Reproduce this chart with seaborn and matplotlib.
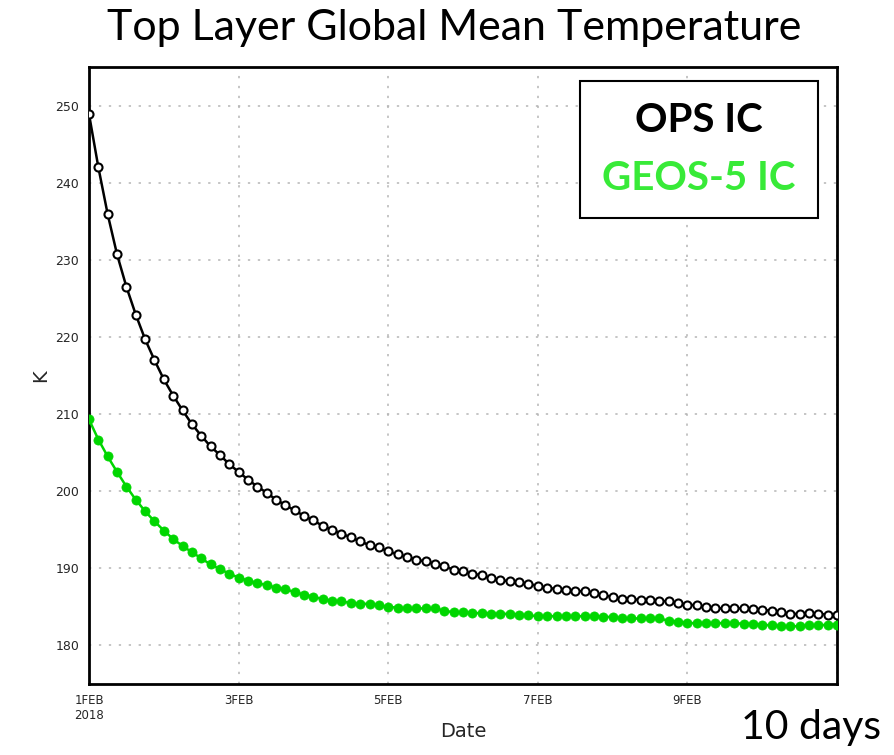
import matplotlib
matplotlib.use("Agg")
import matplotlib.pyplot as plt
import seaborn as sns
import pandas as pd
import numpy as np
from matplotlib.patches import Rectangle

# ---- data (3-hourly, 1 Feb 2018 00Z to 11 Feb 2018 00Z) ----
start_date = "2018-02-01"
n_steps = 81
ops_ic = [248.9, 242.0, 235.9, 230.7, 226.5, 222.9, 219.7, 217.0, 214.5, 212.4,
          210.5, 208.7, 207.2, 205.8, 204.7, 203.5, 202.5, 201.5, 200.6, 199.8,
          198.9, 198.2, 197.5, 196.8, 196.2, 195.5, 195.0, 194.5, 194.0, 193.5,
          193.0, 192.7, 192.2, 191.8, 191.5, 191.1, 190.9, 190.6, 190.3, 189.8,
          189.6, 189.3, 189.1, 188.7, 188.5, 188.3, 188.2, 188.0, 187.7, 187.5,
          187.3, 187.2, 187.1, 187.0, 186.8, 186.5, 186.3, 186.0, 186.0, 185.9,
          185.9, 185.8, 185.7, 185.5, 185.3, 185.2, 185.0, 184.8, 184.8, 184.8,
          184.8, 184.7, 184.6, 184.5, 184.3, 184.1, 184.1, 184.2, 184.1, 184.0, 184.0]
geos5_ic = [209.3, 206.7, 204.5, 202.5, 200.6, 198.9, 197.4, 196.1, 194.9, 193.8,
            192.9, 192.1, 191.3, 190.5, 189.9, 189.3, 188.8, 188.4, 188.1, 187.8,
            187.5, 187.3, 186.9, 186.6, 186.3, 186.0, 185.8, 185.7, 185.5, 185.4,
            185.4, 185.2, 185.0, 184.9, 184.8, 184.8, 184.8, 184.8, 184.5, 184.3,
            184.3, 184.2, 184.2, 184.1, 184.1, 184.1, 184.0, 183.9, 183.8, 183.8,
            183.8, 183.8, 183.8, 183.8, 183.8, 183.7, 183.7, 183.5, 183.5, 183.5,
            183.5, 183.5, 183.2, 183.1, 182.9, 182.9, 182.9, 182.9, 182.9, 182.9,
            182.8, 182.8, 182.7, 182.6, 182.5, 182.5, 182.5, 182.6, 182.6, 182.7, 182.7]
series_names = ["OPS IC", "GEOS-5 IC"]
xtick_dates = ["2018-02-01", "2018-02-03", "2018-02-05", "2018-02-07", "2018-02-09", "2018-02-11"]
xtick_labels = ["1FEB\n2018", "3FEB", "5FEB", "7FEB", "9FEB", ""]
yticks = [180, 190, 200, 210, 220, 230, 240, 250]

times = pd.date_range(start_date, periods=n_steps, freq="3h")
df = pd.DataFrame({"time": times, "OPS IC": ops_ic, "GEOS-5 IC": geos5_ic})

sns.set_theme(style="white")
plt.rcParams["font.family"] = ["DejaVu Sans"]

fig = plt.figure(figsize=(8.95, 7.55), dpi=100)
ax = fig.add_axes([89 / 895, 1 - 684 / 755, 748 / 895, 617 / 755])

black = "#000000"
green = "#00d600"

sns.lineplot(data=df, x="time", y="OPS IC", ax=ax, color=black, lw=1.8,
             marker="o", markersize=5.8, markerfacecolor="white",
             markeredgecolor=black, markeredgewidth=1.5, zorder=3)
sns.lineplot(data=df, x="time", y="GEOS-5 IC", ax=ax, color=green, lw=1.8,
             marker="o", markersize=6.6, markerfacecolor=green,
             markeredgecolor=green, markeredgewidth=0.5, zorder=4)

ax.set_xlim(pd.Timestamp("2018-02-01"), pd.Timestamp("2018-02-11"))
ax.set_ylim(175, 255)
ax.set_xticks([pd.Timestamp(d) for d in xtick_dates])
ax.set_xticklabels(xtick_labels, fontsize=8.5)
ax.set_yticks(yticks)
ax.set_yticklabels([str(v) for v in yticks], fontsize=9)
ax.tick_params(axis="both", direction="out", length=4, width=1.2, color="black", pad=3)
ax.grid(True, color="#b5b5b5", linestyle=(0, (1.5, 5)), lw=1.1)
ax.set_axisbelow(True)
for s in ax.spines.values():
    s.set_color("black")
    s.set_linewidth(2.0)

ax.set_xlabel("Date", fontsize=14, labelpad=0)
ax.set_ylabel("K", fontsize=14, labelpad=4)

# legend-like text box
ax.add_patch(Rectangle((0.656, 0.755), 0.319, 0.222, transform=ax.transAxes,
                       facecolor="white", edgecolor="black", lw=1.5, zorder=6))
ax.text(0.8155, 0.913, series_names[0], transform=ax.transAxes, ha="center", va="center",
        fontsize=29, fontweight="bold", family="Lato", color="black", zorder=7)
ax.text(0.8155, 0.820, series_names[1], transform=ax.transAxes, ha="center", va="center",
        fontsize=29, fontweight="bold", family="Lato", color="#38ea38", zorder=7)

fig.text(0.507, 0.963, "Top Layer Global Mean Temperature", ha="center", va="center",
         fontsize=31, family="Lato", color="black")
fig.text(0.906, 0.036, "10 days", ha="center", va="center",
         fontsize=29.5, family="Lato", color="black")

fig.savefig("out.png", dpi=100)
